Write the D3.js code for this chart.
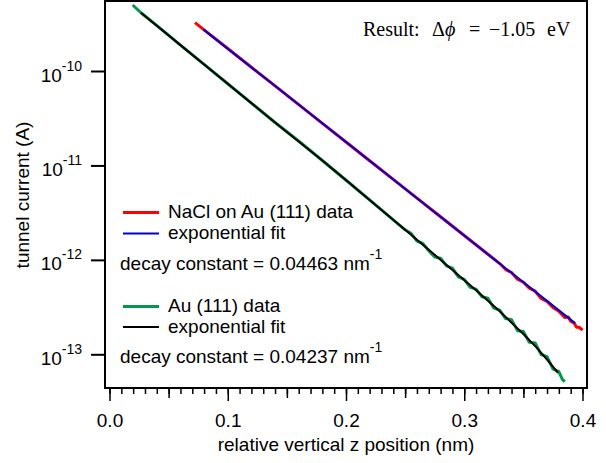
<!DOCTYPE html>
<html>
<head>
<meta charset="utf-8" />
<title>tunnel current</title>
<script src="https://cdn.jsdelivr.net/npm/d3@7/dist/d3.min.js"></script>
<style>
  body { margin: 0; background: #fff; }
  text { font-family: "Liberation Sans", Arial, sans-serif; fill: #000; }
</style>
</head>
<body>
<div id="chart"></div>
<script type="text/javascript">
// NaCl on Au(111): z (nm), current (A)
var naclZ = [0.0723, 0.08, 0.10, 0.12, 0.14, 0.16, 0.18, 0.20, 0.22, 0.24, 0.26, 0.28, 0.30, 0.32, 0.33,
  0.335, 0.34, 0.345, 0.35, 0.355, 0.36, 0.365, 0.37, 0.375, 0.38, 0.385, 0.388, 0.39, 0.393, 0.395, 0.397, 0.40];
var naclI = [3.25e-10, 2.73e-10, 1.73e-10, 1.096e-10, 6.95e-11, 4.41e-11, 2.79e-11, 1.77e-11, 1.12e-11, 7.11e-12,
  4.51e-12, 2.86e-12, 1.81e-12, 1.148e-12, 9.14e-13, 7.90e-13, 7.35e-13, 6.23e-13, 5.79e-13, 5.01e-13, 4.66e-13,
  3.90e-13, 3.63e-13, 3.14e-13, 2.86e-13, 2.45e-13, 2.48e-13, 2.24e-13, 2.13e-13, 1.93e-13, 1.94e-13, 1.80e-13];

var naclFitZ = [0.0793, 0.16, 0.24, 0.32, 0.3937];
var naclFitI = [2.76e-10, 4.41e-11, 7.11e-12, 1.148e-12, 2.14e-13];

// bare Au(111)
var auZ = [0.0196, 0.0266, 0.043, 0.06, 0.08, 0.10, 0.12, 0.14, 0.161, 0.18, 0.2034, 0.225, 0.2457,
  0.25, 0.255, 0.26, 0.265, 0.27, 0.275, 0.28, 0.285, 0.29, 0.295, 0.30, 0.305, 0.31, 0.315, 0.32, 0.325,
  0.33, 0.335, 0.34, 0.345, 0.35, 0.355, 0.36, 0.365, 0.37, 0.375, 0.38, 0.383, 0.385];
var auI = [5.00e-10, 4.14e-10, 2.83e-10, 1.88e-10, 1.175e-10, 7.33e-11, 4.57e-11, 2.85e-11, 1.77e-11, 1.127e-11,
  6.44e-12, 3.82e-12, 2.31e-12, 2.08e-12, 1.91e-12, 1.58e-12, 1.49e-12, 1.25e-12, 1.07e-12, 1.04e-12, 8.65e-13,
  8.19e-13, 6.62e-13, 6.22e-13, 5.12e-13, 4.90e-13, 4.07e-13, 3.92e-13, 3.09e-13, 2.94e-13, 2.39e-13, 2.33e-13,
  1.78e-13, 1.74e-13, 1.34e-13, 1.32e-13, 9.95e-14, 9.43e-14, 7.01e-14, 6.56e-14, 5.43e-14, 5.13e-14];

var auFitZ = [0.0266, 0.06, 0.10, 0.14, 0.18, 0.2034, 0.225, 0.25, 0.27, 0.29, 0.31, 0.33, 0.35, 0.36, 0.37, 0.3793];
var auFitI = [4.14e-10, 1.88e-10, 7.33e-11, 2.85e-11, 1.127e-11, 6.44e-12, 3.82e-12, 2.08e-12, 1.28e-12, 7.80e-13,
  4.76e-13, 2.85e-13, 1.64e-13, 1.22e-13, 8.81e-14, 6.35e-14];

var xMajor = [0, 0.1, 0.2, 0.3, 0.4];
var xMid = [0.05, 0.15, 0.25, 0.35];
var yMajor = [1e-10, 1e-11, 1e-12, 1e-13];
var yExp = ["-10", "-11", "-12", "-13"];

var legendTop = ["NaCl on Au (111) data", "exponential fit"];
var legendBottom = ["Au (111) data", "exponential fit"];
var decayText = ["decay constant = 0.04463 nm", "decay constant = 0.04237 nm"];

var width = 606, height = 463;
var frame = {left: 105, right: 587, top: 1, bottom: 388};

var x = d3.scaleLinear().domain([0, 0.4]).range([109.5, 582.5]);
var y = d3.scaleLog().domain([1e-10, 1e-13]).range([71, 354.3]);

var svg = d3.select("#chart").append("svg")
    .attr("width", width)
    .attr("height", height);

svg.append("clipPath").attr("id", "clip")
  .append("rect")
    .attr("x", frame.left).attr("y", frame.top)
    .attr("width", frame.right - frame.left)
    .attr("height", frame.bottom - frame.top);

var line = d3.line()
    .x(function (d) { return x(d[0]); })
    .y(function (d) { return y(d[1]); });

var plot = svg.append("g").attr("clip-path", "url(#clip)");
var series = [
  {z: auZ, I: auI, color: "#00994c", w: 3},
  {z: auFitZ, I: auFitI, color: "#000000", w: 2},
  {z: naclZ, I: naclI, color: "#ff0000", w: 3},
  {z: naclFitZ, I: naclFitI, color: "#0000d0", w: 2}
];
series.forEach(function (s) {
  plot.append("path")
      .attr("d", line(d3.zip(s.z, s.I)))
      .attr("fill", "none")
      .attr("stroke", s.color)
      .attr("stroke-width", s.w)
      .attr("stroke-linejoin", "round");
});

// frame
svg.append("rect")
    .attr("x", frame.left).attr("y", frame.top)
    .attr("width", frame.right - frame.left)
    .attr("height", frame.bottom - frame.top)
    .attr("fill", "none")
    .attr("stroke", "#000")
    .attr("stroke-width", 2);

// x axis: minor, mid and major ticks
var minor = d3.range(0, 41).map(function (i) { return i / 100; });
var xg = svg.append("g").attr("transform", "translate(0," + frame.bottom + ")");
xg.append("g").call(d3.axisBottom(x).tickValues(minor).tickSize(6).tickFormat(""));
xg.append("g").call(d3.axisBottom(x).tickValues(xMid).tickSize(10).tickFormat(""));
xg.append("g").call(d3.axisBottom(x).tickValues(xMajor).tickSize(13).tickFormat(d3.format(".1f")));
xg.selectAll(".domain").remove();
xg.selectAll("line").attr("stroke", "#000").attr("stroke-width", 1.5);
xg.selectAll("text")
    .attr("y", 39).attr("dy", null)
    .attr("font-size", 19)
    .style("font-family", "'Liberation Sans', Arial, sans-serif");

svg.append("text")
    .attr("x", (frame.left + frame.right) / 2)
    .attr("y", 451)
    .attr("text-anchor", "middle")
    .attr("font-size", 19)
    .text("relative vertical z position (nm)");

// y axis
var yg = svg.append("g").attr("transform", "translate(" + frame.left + ",0)");
yg.call(d3.axisLeft(y).tickValues(yMajor).tickSize(14).tickFormat(""));
yg.select(".domain").remove();
yg.selectAll("line").attr("stroke", "#000").attr("stroke-width", 2);

yMajor.forEach(function (v, i) {
  var t = svg.append("text")
      .attr("x", 82)
      .attr("y", y(v) + 10.5)
      .attr("text-anchor", "end");
  t.append("tspan").attr("font-size", 19).text("10");
  t.append("tspan").attr("font-size", 14).attr("dy", -11).text(yExp[i]);
});

svg.append("text")
    .attr("transform", "translate(28.5,195) rotate(-90)")
    .attr("text-anchor", "middle")
    .attr("font-size", 19)
    .text("tunnel current (A)");

// legend
var leg = [
  {label: legendTop[0], color: "#ff0000", w: 3, y: 212.5},
  {label: legendTop[1], color: "#0000d0", w: 2, y: 233.5},
  {label: legendBottom[0], color: "#00994c", w: 3, y: 306.5},
  {label: legendBottom[1], color: "#000000", w: 2, y: 327}
];
leg.forEach(function (d) {
  svg.append("line")
      .attr("x1", 123).attr("x2", 159)
      .attr("y1", d.y).attr("y2", d.y)
      .attr("stroke", d.color)
      .attr("stroke-width", d.w);
  svg.append("text")
      .attr("x", 168).attr("y", d.y + 5.5)
      .attr("font-size", 19)
      .text(d.label);
});

[270, 363.3].forEach(function (by, i) {
  var t = svg.append("text").attr("x", 120).attr("y", by);
  t.append("tspan").attr("font-size", 19).text(decayText[i]);
  t.append("tspan").attr("font-size", 14).attr("dy", -11).text("-1");
});

// result annotation
var r = svg.append("text")
    .attr("y", 36)
    .attr("font-size", 20)
    .style("font-family", "'Liberation Serif', 'DejaVu Serif', serif");
r.append("tspan").attr("x", 363).text("Result:");
r.append("tspan").attr("x", 432).text("\u0394");
r.append("tspan").attr("font-style", "italic").text("\u03d5");
r.append("tspan").attr("x", 469).text("=");
r.append("tspan").attr("x", 489).text("\u22121.05");
r.append("tspan").attr("x", 547).text("eV");
</script>
</body>
</html>
